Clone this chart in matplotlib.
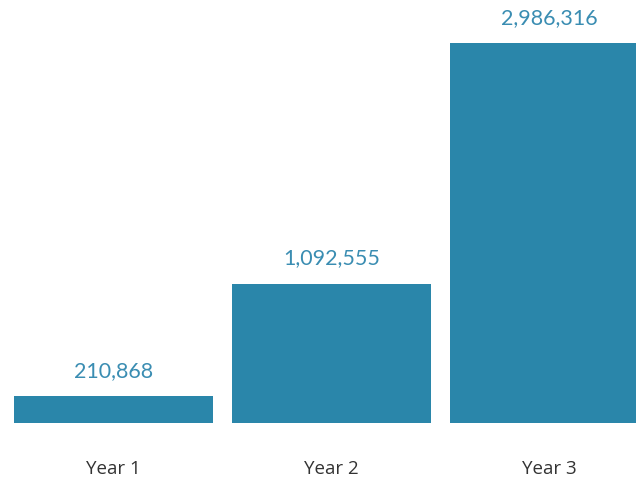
import matplotlib.pyplot as plt

years = ['Year 1', 'Year 2', 'Year 3']
values = [210868, 1092555, 2986316]

bar_color = '#2a86aa'
label_color = '#3a8db2'

fig = plt.figure(figsize=(6.36, 4.81), dpi=100)
ax = fig.add_axes([0, 57 / 481, 1, 424 / 481])

x = range(len(years))
ax.bar(x, values, width=0.913, color=bar_color)

ax.set_xlim(-0.521, 2.397)
ax.set_ylim(0, 2986316 * 424 / 380)

for xi, v in zip(x, values):
    ax.annotate(f'{v:,}', (xi, v), xytext=(0, 19), textcoords='offset points',
                ha='center', va='center', color=label_color,
                fontsize=15.5, family='Lato')

ax.set_xticks(list(x))
ax.set_xticklabels(years, fontsize=13.5, color='#333333', family='Open Sans')
ax.tick_params(axis='x', length=0, pad=26)
ax.set_yticks([])
for s in ax.spines.values():
    s.set_visible(False)

fig.savefig('out.png', dpi=100)
